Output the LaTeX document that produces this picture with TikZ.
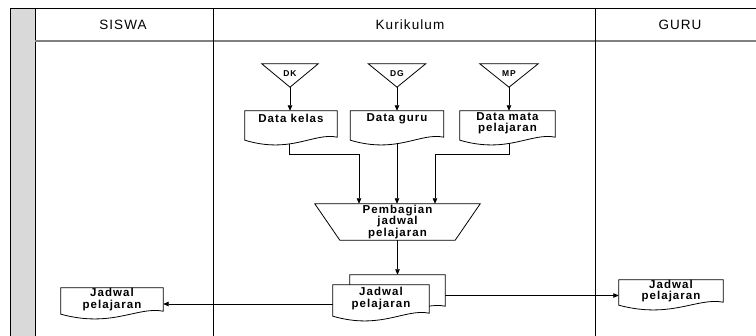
\documentclass[tikz,border=0pt]{standalone}
\usepackage{fontspec}
\setmainfont{Liberation Sans}
\newfontfamily\headfont[LetterSpace=8]{Liberation Sans}
\newfontfamily\boxfont[LetterSpace=9]{Liberation Sans}
\usetikzlibrary{calc,arrows.meta}
\pgfdeclarelayer{lanes}
\pgfdeclarelayer{shapes}
\pgfsetlayers{lanes,shapes,main}

% outline of a document symbol (wavy bottom edge) around a named node
\newcommand\docoutline[1]{%
  \draw[outline] (#1.north west) -- (#1.north east) -- ($(#1.south east)+(0,-3)$)
    .. controls ($(#1.south east)!0.25!(#1.south west)+(0,-8)$)
           and ($(#1.south east)!0.5!(#1.south west)+(0,14)$) .. (#1.south west) -- cycle;}
% manual-input triangle (pointing down)
\newcommand\trioutline[1]{%
  \draw[outline] (#1.north west) -- (#1.north east) -- (#1.south) -- cycle;}
% manual-operation trapezium (wide side on top)
\newcommand\trapoutline[2]{%
  \draw[outline] (#1.north west) -- (#1.north east) -- ($(#1.south east)+(-#2,0)$)
    -- ($(#1.south west)+(#2,0)$) -- cycle;}

\begin{document}
\begin{tikzpicture}[x=1pt,y=-1pt,
  lane/.style={line width=1pt,draw=black},
  hdr/.style={font=\headfont\fontsize{13.5}{15}\selectfont,inner sep=0pt},
  holder/.style={draw=none,inner sep=0pt},
  boxtext/.style={inner sep=0pt,align=center,font=\boxfont\bfseries\fontsize{11.5}{11.5}\selectfont},
  tritext/.style={inner sep=0pt,font=\boxfont\bfseries\fontsize{8.5}{9}\selectfont},
  outline/.style={line width=0.8pt,fill=white,draw=black},
  link/.style={line width=0.8pt},
  flow/.style={line width=0.8pt,-{Triangle[length=5.5pt,width=4.5pt]}}]

\useasboundingbox (0,0) rectangle (756,336);

% ---- swimlane frame ----
\begin{pgfonlayer}{lanes}
  \fill[gray!30] (10,9) rectangle (35,340);
  \draw[lane] (10,340) -- (10,9) -- (760,9);
  \draw[lane] (35,9) -- (35,340);
  \draw[line width=1.1pt,draw=gray] (35,41) -- (760,41);
  \draw[lane] (213,9) -- (213,340);
  \draw[lane] (595,9) -- (595,340);
\end{pgfonlayer}
\node[hdr] (hsiswa) at (123,25) {SISWA};
\node[hdr] (hkur)   at (410,25) {Kurikulum};
\node[hdr] (hguru)  at (680,25) {GURU};

% ---- inputs ----
\node[holder,minimum width=56,minimum height=23] (dk) at (290,75.5) {};
\node[holder,minimum width=57,minimum height=23] (dg) at (397,75.5) {};
\node[holder,minimum width=58,minimum height=23] (mp) at (509,75.5) {};
\node[tritext] (dkt) at (290,74) {DK};
\node[tritext] (dgt) at (397,74) {DG};
\node[tritext] (mpt) at (509,74) {MP};

% ---- data documents ----
\node[holder,minimum width=92,minimum height=29] (kelas) at (291,125.5) {};
\node[holder,minimum width=93,minimum height=29] (guru)  at (397,125.5) {};
\node[holder,minimum width=95,minimum height=29] (mapel) at (507.5,125.5) {};
\node[boxtext] (kelast) at (291,118.5) {Data kelas};
\node[boxtext] (gurut)  at (397,118.5) {Data guru};
\node[boxtext] (mapelt) at (507.5,123) {Data mata\\pelajaran};

% ---- process ----
\node[holder,minimum width=165,minimum height=36,boxtext] (proc) at (397.5,222)
  {Pembagian\\jadwal\\pelajaran};

% ---- output documents ----
\node[holder,minimum width=95,minimum height=34] (jback) at (397.5,292) {};
\node[holder,minimum width=96,minimum height=31] (jadwal) at (381,300.5) {};
\node[boxtext] (jadwalt) at (381,298.5) {Jadwal\\pelajaran};
\node[holder,minimum width=102,minimum height=26] (siswadoc) at (112,301) {};
\node[boxtext] (siswadoct) at (112,299.5) {Jadwal\\pelajaran};
\node[holder,minimum width=104,minimum height=25] (gurudoc) at (671,292.5) {};
\node[boxtext] (gurudoct) at (671,291) {Jadwal\\pelajaran};

% ---- symbol outlines ----
\begin{pgfonlayer}{shapes}
  \trioutline{dk}
  \trioutline{dg}
  \trioutline{mp}
  \docoutline{kelas}
  \docoutline{guru}
  \docoutline{mapel}
  \trapoutline{proc}{25}
  \docoutline{jback}
  \docoutline{jadwal}
  \docoutline{siswadoc}
  \docoutline{gurudoc}
\end{pgfonlayer}

% ---- connectors ----
\begin{pgfonlayer}{lanes}
  \draw[flow] (dk.south) -- (dk.south |- kelas.north);
  \draw[flow] (dg.south) -- (dg.south |- guru.north);
  \draw[flow] (mp.south) -- (mp.south |- mapel.north);
  \draw[flow] ($(kelas.south)+(-2,0)$) |- ($(proc.north)+(-38.5,-49)$) -- ($(proc.north)+(-38.5,0)$);
  \draw[flow] (guru.south) -- (guru.south |- proc.north);
  \draw[flow] ($(mapel.south)+(1.5,0)$) |- ($(proc.north)+(37.5,-49)$) -- ($(proc.north)+(37.5,0)$);
  \draw[flow] (proc.south) -- (jback.north);
  \draw[flow] ($(jadwal.west)+(0,3.5)$) coordinate (lw) -- (lw -| siswadoc.east);
  \draw[flow] ($(jback.east)+(0,3.5)$) coordinate (rw) -- (rw -| gurudoc.west);
\end{pgfonlayer}
\end{tikzpicture}
\end{document}
